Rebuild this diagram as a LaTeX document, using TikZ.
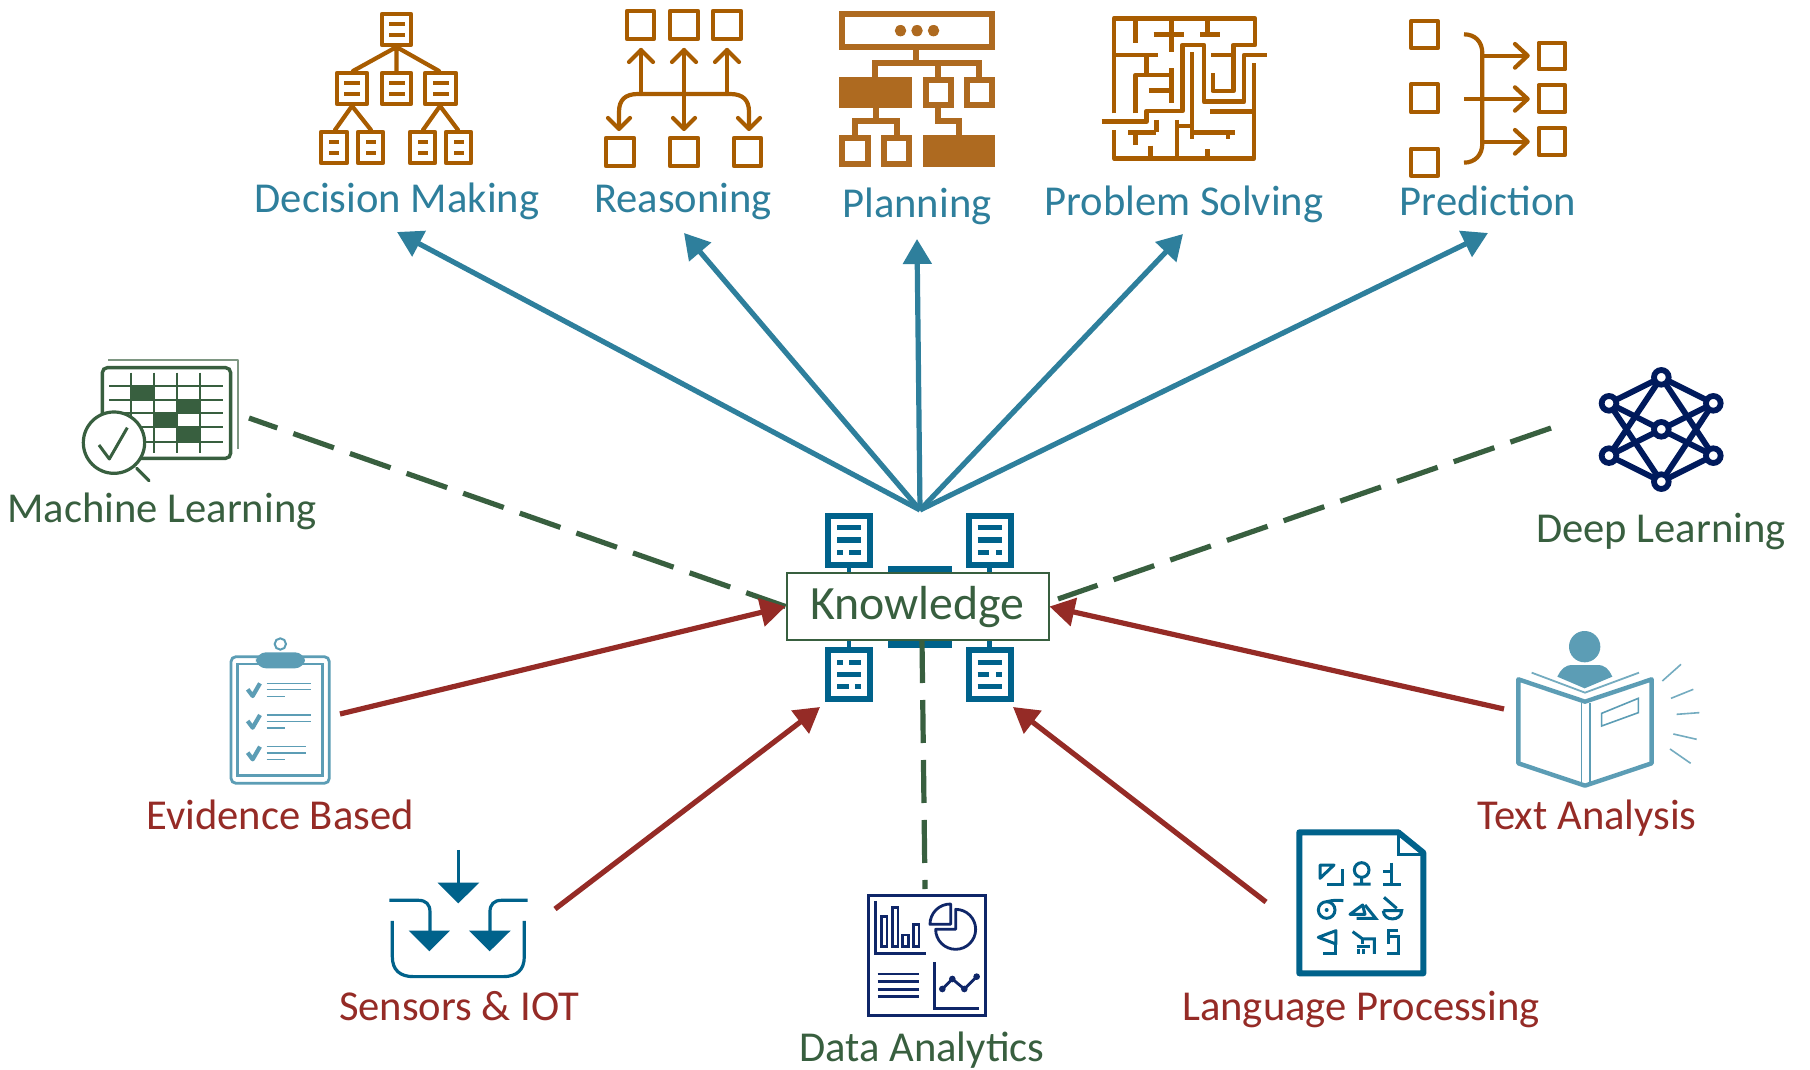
\documentclass[tikz,border=0pt]{standalone}
\usepackage{fontspec}
\setmainfont{Carlito}
\usetikzlibrary{arrows.meta}
\definecolor{tealtxt}{HTML}{2E7F9C}
\definecolor{orangeic}{HTML}{A85C00}
\definecolor{orangepl}{HTML}{AE6A20}
\definecolor{deepblue}{HTML}{00628B}
\definecolor{lightblue}{HTML}{5C9DB5}
\definecolor{redc}{HTML}{952B26}
\definecolor{greenc}{HTML}{385F3F}
\definecolor{navyc}{HTML}{0F2668}
\definecolor{navydeep}{HTML}{001A5C}
\tikzset{
  lab/.style={anchor=base,font=\fontsize{21.3}{24}\selectfont,inner sep=0pt},
  labteal/.style={lab,text=tealtxt},
  labred/.style={lab,text=redc},
  labgreen/.style={lab,text=greenc},
  blueline/.style={draw=tealtxt,line width=2.6pt,-{Triangle[length=12.5pt,width=14pt]}},
  redline/.style={draw=redc,line width=2.6pt,-{Triangle[length=12.5pt,width=14pt]}},
  greenline/.style={draw=greenc,line width=2.6pt,dash pattern=on 21.5pt off 8.5pt},
  orng/.style={draw=orangeic,line width=2.1pt,line join=round,line cap=round},
  orpl/.style={draw=orangepl,line width=3pt},
  maze/.style={draw=orangeic,line width=2.3pt,line join=round},
  docic/.style={draw=deepblue,line width=3pt},
  docbar/.style={draw=deepblue,line width=2.6pt},
  mlline/.style={draw=greenc,line width=.9pt},
  evid/.style={draw=lightblue,line width=1.3pt},
  evthin/.style={draw=lightblue,line width=.8pt},
  sens/.style={draw=deepblue,line width=1.6pt},
  data/.style={draw=navyc,line width=1.4pt},
  lang/.style={draw=deepblue,line width=1.5pt},
  book/.style={draw=lightblue,line width=2.2pt,line join=round},
  neural/.style={draw=navydeep,line width=2.9pt},
}
\newcommand{\oSq}[4]{\draw[orng] (#1,#2) rectangle (#3,#4);}
\newcommand{\dmBox}[5]{\draw[orng] (#1,#2) rectangle (#3,#4);
  \fill[orangeic] ({#1+(#3-#1)/2-#5},{#2+(#4-#2)*.33-2}) rectangle ({#1+(#3-#1)/2+#5},{#2+(#4-#2)*.33+2});
  \fill[orangeic] ({#1+(#3-#1)/2-#5},{#2+(#4-#2)*.67-2}) rectangle ({#1+(#3-#1)/2+#5},{#2+(#4-#2)*.67+2});}
\newcommand{\uArrow}[3]{\draw[orng] (#1,#3) -- (#1,#2); \draw[orng] (#1-12,#2+12) -- (#1,#2) -- (#1+12,#2+12);}
\newcommand{\dHead}[2]{\draw[orng] (#1-11,#2-11) -- (#1,#2) -- (#1+11,#2-11);}
\newcommand{\knBar}[3]{\draw[docbar] (#1,#3) -- (#2,#3);}
\begin{document}
\begin{tikzpicture}[x=0.5pt,y=-0.5pt]
\useasboundingbox (0,0) rectangle (1810,1070);
\fill[white] (0,0) rectangle (1810,1070);

%% Decision Making icon
\dmBox{382}{14}{411}{45}{8}
\dmBox{337}{73}{367}{104}{8}\dmBox{382}{73}{411}{104}{8}\dmBox{425}{73}{456}{104}{8}
\dmBox{321}{132}{347}{163}{5}\dmBox{358}{132}{383}{163}{5}\dmBox{410}{132}{435}{163}{5}\dmBox{446}{132}{471}{163}{5}
\draw[orng] (396.5,47) -- (353,71) (396.5,47) -- (396.5,71) (396.5,47) -- (439,71);
\draw[orng] (352,106) -- (335,130) (352,106) -- (371,130);
\draw[orng] (440,106) -- (423,130) (440,106) -- (458,130);

%% Reasoning icon
\oSq{627}{11}{654}{39}\oSq{670}{11}{698}{39}\oSq{713}{11}{741}{39}
\oSq{606}{138}{634}{166}\oSq{670}{138}{698}{166}\oSq{734}{138}{761}{166}
\uArrow{641}{50}{94}\uArrow{684}{50}{128}\uArrow{727}{50}{94}
\draw[orng] (619,128) -- (619,112) .. controls (619,100) and (625,94) .. (638,94) -- (730,94) .. controls (743,94) and (749,100) .. (749,112) -- (749,128);
\dHead{619}{129}\dHead{684}{129}\dHead{749}{129}

%% Planning icon
\begin{scope}[shift={(800,0)},xscale=.359,yscale=.3333]
  \draw[orpl] (118,43) rectangle (534,141);
  \foreach \xx in {280,326,372}{\fill[orangepl] (\xx,92) ellipse[x radius=16,y radius=17];}
  \draw[orpl] (322,150) -- (322,190) (210,232) -- (210,190) -- (498,190) -- (498,232) (385,190) -- (385,232);
  \fill[orangepl] (110,232) rectangle (312,325);
  \draw[orpl] (350,241) rectangle (420,316);
  \draw[orpl] (465,241) rectangle (534,316);
  \draw[orpl] (212,325) -- (212,362);
  \draw[orpl] (152,405) -- (152,362) -- (270,362) -- (270,405);
  \draw[orpl] (118,413) rectangle (189,492);
  \draw[orpl] (235,413) rectangle (304,492);
  \fill[orangepl] (342,405) rectangle (542,500);
  \draw[orpl] (385,325) -- (385,362) -- (443,362) -- (443,405);
\end{scope}

%% Problem Solving icon
\begin{scope}[shift={(800,0)},xscale=.359,yscale=.3333]
  \draw[maze] (875,340) -- (875,55) -- (1267,55) -- (1267,135) -- (1207,135) -- (1207,273) -- (1150,273) -- (1150,220);
  \draw[maze] (935,55) -- (935,128);
  \draw[maze] (985,103) -- (1070,103) (1035,55) -- (1035,157);
  \draw[maze] (1135,55) -- (1135,103) (1115,103) -- (1170,103);
  \draw[maze] (1145,165) -- (1207,165);
  \draw[maze] (875,165) -- (998,165) (965,165) -- (965,225);
  \draw[maze] (935,340) -- (935,225) -- (1035,225) (1035,205) -- (1035,310) (972,272) -- (1035,272);
  \draw[maze] (840,365) -- (965,365) -- (965,333) -- (1065,333) -- (1065,135) -- (1125,135) -- (1125,305) -- (1237,305) -- (1237,165) -- (1300,165);
  \draw[maze] (1092,157) -- (1092,418);
  \draw[maze] (1265,190) -- (1265,475) -- (875,475) -- (875,390);
  \draw[maze] (1143,335) -- (1265,335);
  \draw[maze] (915,397) -- (993,397) (993,360) -- (993,397) (935,397) -- (935,435);
  \draw[maze] (1050,360) -- (1050,475) (1050,378) -- (1092,378) -- (1092,397) -- (1213,397) (1192,397) -- (1192,418);
  \draw[maze] (977,437) -- (977,475) (1135,448) -- (1135,475);
\end{scope}

%% Prediction icon
\begin{scope}[shift={(1360,0)},scale=.3333]
  \oSq{153}{64}{234}{144}\oSq{153}{253}{234}{337}\oSq{153}{446}{234}{527}
  \oSq{536}{128}{616}{208}\oSq{536}{256}{616}{336}\oSq{536}{384}{616}{464}
  \draw[orng,line cap=butt] (312,103) .. controls (345,103) and (367,125) .. (367,160) -- (367,430) .. controls (367,465) and (345,488) .. (312,488);
  \draw[orng,line cap=butt] (367,167) -- (500,167) (312,297) -- (500,297) (367,425) -- (500,425);
  \draw[orng] (465,132) -- (503,167) -- (465,203);
  \draw[orng] (465,262) -- (503,297) -- (465,332);
  \draw[orng] (465,390) -- (503,425) -- (465,461);
\end{scope}

%% Machine Learning icon
\begin{scope}[shift={(0,340)},scale=.3333]
  \draw[greenc!65,line width=.9pt,line join=round] (325,60) -- (715,60) -- (715,328);
  \draw[draw=greenc,line width=1.7pt,rounded corners=2.5pt] (307,83) rectangle (692,355);
  \foreach \xx in {392,462,530,600}{\draw[mlline] (\xx,98) -- (\xx,340);}
  \foreach \yy in {138,180,220,262,305}{\draw[mlline] (328,\yy) -- (670,\yy);}
  \fill[greenc] (392,138) rectangle (462,180) (530,180) rectangle (600,220) (462,220) rectangle (530,262) (530,262) rectangle (600,305);
  \draw[draw=greenc,fill=white,line width=1.6pt] (342,308) circle[radius=92];
  \draw[draw=greenc,line width=1.5pt,line join=round] (297,315) -- (328,357) -- (382,263);
  \draw[draw=greenc,line width=1.6pt,line cap=round] (410,385) -- (447,422);
\end{scope}

%% Deep Learning icon
\begin{scope}[shift={(1510,350)},scale=.3333]
  \draw[neural] (454,82) -- (297,160) (454,82) -- (610,160) (454,395) -- (297,317) (454,395) -- (610,317);
  \draw[neural] (454,82) -- (297,317) (454,82) -- (610,317) (454,395) -- (297,160) (454,395) -- (610,160);
  \draw[neural] (297,160) -- (610,317) (610,160) -- (297,317);
  \foreach \xx/\yy in {454/82,297/160,610/160,454/238,297/317,610/317,454/395}{\draw[neural,fill=white] (\xx,\yy) circle[radius=22];}
\end{scope}

%% Evidence Based icon
\begin{scope}[shift={(200,620)},scale=.3333]
  \draw[draw=lightblue,line width=1.4pt,rounded corners=2.5pt] (93,110) rectangle (388,490);
  \draw[evid] (113,132) rectangle (368,467);
  \fill[lightblue,rounded corners=5pt] (168,97) rectangle (315,145);
  \draw[draw=lightblue,line width=1pt] (241,72) circle[radius=17];
  \foreach \dy/\ex in {0/332,95/332,190/318}{
    \draw[draw=lightblue,line width=2.1pt,line join=round] (143,208+\dy) -- (158,228+\dy) -- (180,190+\dy);
    \draw[evthin] (200,190+\dy) -- (\ex,190+\dy) (200,209+\dy) -- (\ex,209+\dy) (200,229+\dy) -- (255,229+\dy);
  }
\end{scope}

%% Sensors icon
\begin{scope}[shift={(200,620)},scale=.3333]
  \draw[sens] (775,690) -- (775,790);
  \fill[deepblue] (713,788) -- (838,788) -- (775,850) -- cycle;
  \draw[sens] (568,841) -- (655,841) .. controls (678,841) and (690,853) .. (690,876) -- (690,935);
  \fill[deepblue] (626,932) -- (750,932) -- (688,994) -- cycle;
  \draw[sens] (983,841) -- (905,841) .. controls (882,841) and (870,853) .. (870,876) -- (870,935);
  \fill[deepblue] (807,932) -- (932,932) -- (869,994) -- cycle;
  \draw[sens] (577,903) -- (577,1010) .. controls (577,1050) and (600,1070) .. (640,1070) -- (910,1070) .. controls (950,1070) and (973,1050) .. (973,1010) -- (973,903);
\end{scope}

%% Data Analytics icon
\begin{scope}[shift={(780,820)},scale=.3333]
  \draw[draw=navyc,line width=1.7pt] (265,226) rectangle (617,587);
  \draw[data] (287,243) -- (287,400) -- (437,400);
  \draw[data] (305,290) rectangle (321,380) (337,263) rectangle (354,380) (368,345) rectangle (385,380) (400,313) rectangle (417,380);
  \draw[data,line join=round] (512,253) -- (512,313) -- (450,313) arc[start angle=180,end angle=270,radius=61] -- cycle;
  \draw[data,line join=round] (527,268) arc[start angle=-90,end angle=180,radius=60] -- (527,328) -- cycle;
  \foreach \yy in {462,485,508,530}{\draw[data] (293,\yy) -- (417,\yy);}
  \draw[data] (463,427) -- (463,565) -- (598,565);
  \draw[data,line join=round] (487,507) -- (517,477) -- (553,507) -- (590,470);
  \foreach \xx/\yy in {487/507,517/477,553/507,590/470}{\fill[navyc] (\xx,\yy) circle[radius=10];}
\end{scope}

%% Language Processing icon
\begin{scope}[shift={(1180,820)},scale=.3333]
  \draw[draw=deepblue,line width=3pt,line join=round] (358,37) -- (655,37) -- (730,98) -- (730,460) -- (358,460) -- cycle;
  \draw[lang] (655,40) -- (655,103) -- (725,103);
  \draw[lang,line join=round] (420,135) -- (420,175) -- (462,135) -- cycle;
  \draw[lang] (487,147) -- (487,192) -- (440,192);
  \draw[lang] (545,150) circle[radius=22] (545,172) -- (545,192) (520,192) -- (572,192);
  \draw[lang] (635,128) -- (635,192) (610,155) -- (635,155) (610,192) -- (663,192);
  \draw[lang] (440,270) circle[radius=25];
  \fill[deepblue] (440,270) circle[radius=6];
  \draw[lang] (440,245) .. controls (460,240) and (475,240) .. (490,242);
  \draw[lang,line join=round] (510,283) -- (548,255) -- (555,283) -- cycle;
  \draw[lang] (555,255) -- (587,295) -- (530,295);
  \draw[lang] (612,232) -- (650,265);
  \draw[lang] (610,272) -- (665,272) .. controls (665,305) and (610,305) .. (610,272);
  \draw[lang,line join=round] (415,352) -- (468,332) -- (468,372) -- cycle;
  \draw[lang] (468,372) -- (468,400) -- (430,400);
  \draw[lang] (518,335) -- (548,357) -- (583,357) -- (583,402);
  \draw[lang] (548,357) -- (548,372) (530,380) -- (570,380) (535,386) -- (535,402) (550,386) -- (550,402);
  \draw[lang] (655,332) -- (625,332) -- (625,372) (625,350) -- (655,350) -- (655,400) -- (622,400);
\end{scope}

%% Text Analysis icon
\begin{scope}[shift={(1480,620)},scale=.3333]
  \fill[lightblue] (314,80) circle[radius=47];
  \fill[lightblue] (232,170) .. controls (245,145) and (255,135) .. (280,135) -- (350,135) .. controls (375,135) and (385,145) .. (397,170) -- (314,205) -- cycle;
  \draw[draw=lightblue!85,line width=.9pt] (155,158) -- (315,218) -- (477,158);
  \draw[book,fill=white] (115,178) -- (315,245) -- (515,178) -- (515,430) -- (315,497) -- (115,430) -- cycle;
  \draw[draw=lightblue,line width=.8pt] (305,250) -- (305,490) (330,250) -- (330,485);
  \draw[draw=lightblue,line width=.8pt] (365,280) -- (475,235) -- (475,278) -- (365,318) -- cycle;
  \draw[draw=lightblue!85,line width=.8pt] (547,183) -- (603,133) (573,235) -- (640,208) (590,283) -- (658,278) (580,342) -- (650,358) (570,387) -- (632,430);
\end{scope}

%% Knowledge icon behind the box
\begin{scope}[shift={(760,490)},scale=.3333]
  \draw[docic,fill=deepblue] (392,236) rectangle (566,466);
  \foreach \xx/\yy in {204/77,626/77,204/479,626/479}{
    \draw[docic] (\xx,\yy) rectangle (\xx+127,\yy+147);
  }
  \draw[docic,line width=2.4pt] (267,232) -- (267,470) (688,232) -- (688,470);
  \knBar{232}{303}{113}\knBar{232}{303}{150}\knBar{232}{248}{187}\knBar{268}{303}{187}
  \knBar{653}{725}{113}\knBar{653}{725}{150}\knBar{653}{688}{187}\knBar{708}{725}{187}
  \knBar{232}{248}{517}\knBar{268}{303}{517}\knBar{232}{303}{553}\knBar{232}{268}{590}\knBar{285}{303}{590}
  \knBar{653}{725}{517}\knBar{653}{688}{553}\knBar{708}{725}{553}\knBar{653}{725}{590}
\end{scope}

%% Knowledge box
\node[draw=greenc,fill=white,line width=1pt,minimum width=131pt,minimum height=33.5pt,inner sep=0pt] (know) at (917.5,606.5) {};
\node[lab,text=greenc,font=\fontsize{23.9}{26}\selectfont] (knowtxt) at (917.5,619) {Knowledge};

%% Labels
\node[labteal] (ldm) at (397,213) {Decision Making};
\node[labteal] (lre) at (683,213) {Reasoning};
\node[labteal] (lpl) at (917,217) {Planning};
\node[labteal] (lps) at (1184,215) {Problem Solving};
\node[labteal] (lpr) at (1488,215) {Prediction};
\node[labgreen] (lml) at (162,522) {Machine Learning};
\node[labgreen] (ldl) at (1661,542) {Deep Learning};
\node[labred] (lev) at (280,829) {Evidence Based};
\node[labred] (lta) at (1587,829) {Text Analysis};
\node[labred] (lse) at (459,1020) {Sensors \& IOT};
\node[labred] (llp) at (1361,1020) {Language Processing};
\node[labgreen] (lda) at (922,1061) {Data Analytics};

%% Connector anchors
\coordinate (hub) at (920,510);
\coordinate (tdm) at (397,232);
\coordinate (tre) at (684,233);
\coordinate (tpl) at (917,239);
\coordinate (tps) at (1183,234);
\coordinate (tpr) at (1488,233);
\coordinate (sml) at (249,418);
\coordinate (sdl) at (1551,428);
\coordinate (edl) at (1058,599);
\coordinate (sda) at (922,640);
\coordinate (eda) at (925,889);
\coordinate (sev) at (340,714);
\coordinate (sta) at (1504,709);
\coordinate (sse) at (555,909);
\coordinate (tse) at (820,707);
\coordinate (slp) at (1266,902);
\coordinate (tlp) at (1013,707);

%% Connectors
\draw[blueline] (hub) -- (tdm);
\draw[blueline] (hub) -- (tre);
\draw[blueline] (hub) -- (tpl);
\draw[blueline] (hub) -- (tps);
\draw[blueline] (hub) -- (tpr);
\draw[greenline,dash phase=6.5pt] (sml) -- (know.west);
\draw[greenline] (sdl) -- (edl);
\draw[greenline] (sda) -- (eda);
\draw[redline] (sev) -- (know.west);
\draw[redline] (sta) -- (know.east);
\draw[redline] (sse) -- (tse);
\draw[redline] (slp) -- (tlp);
\end{tikzpicture}
\end{document}
